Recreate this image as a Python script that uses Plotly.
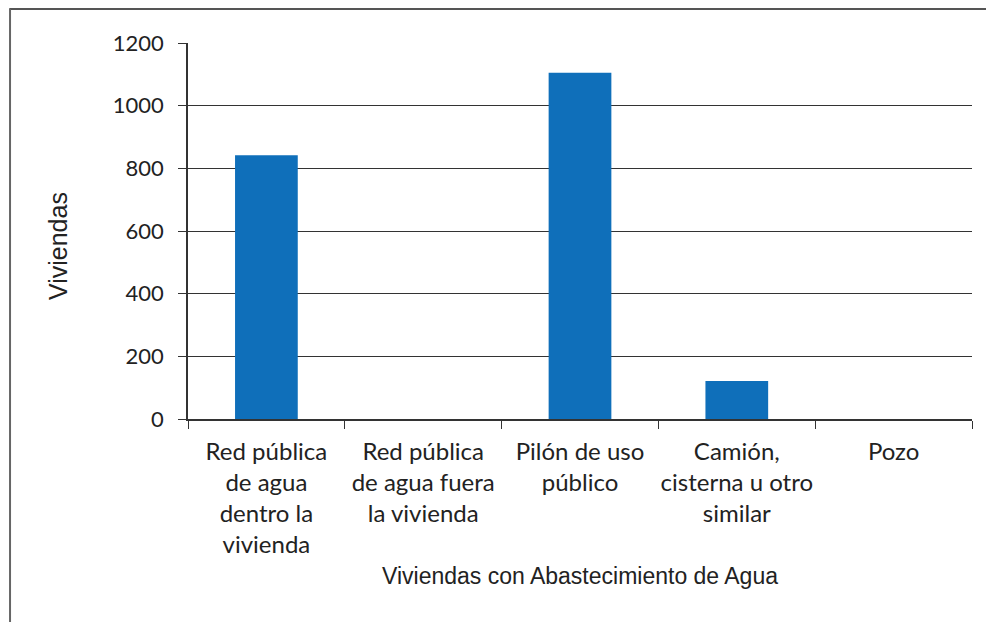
import plotly.graph_objects as go

categories = [
    "Red pública<br>de agua<br>dentro la<br>vivienda",
    "Red pública<br>de agua fuera<br>la vivienda",
    "Pilón de uso<br>público",
    "Camión,<br>cisterna u otro<br>similar",
    "Pozo",
]
values = [842, 0, 1105, 121, 0]
y_ticks = [0, 200, 400, 600, 800, 1000, 1200]
y_title = "Viviendas"
x_title = "Viviendas con Abastecimiento de Agua"

fig = go.Figure(go.Bar(x=categories, y=values, marker=dict(color="#0F6FBA", line=dict(width=0))))

fig.update_layout(
    width=994, height=622,
    margin=dict(l=180, r=30, t=35, b=211, autoexpand=False),
    paper_bgcolor="white", plot_bgcolor="white",
    bargap=0.6, showlegend=False,
    font=dict(family="Lato", color="#222"),
    shapes=[
        dict(type="line", xref="paper", yref="paper", x0=-0.228, x1=1.05, y0=1.0904, y1=1.0904,
             line=dict(color="#555", width=2)),
        dict(type="line", xref="paper", yref="paper", x0=-0.227, x1=-0.227, y0=1.0904, y1=-0.54,
             line=dict(color="#666", width=2)),
    ],
    annotations=[
        dict(text=y_title, xref="paper", yref="paper", x=-0.1658, y=0.46, textangle=-90,
             showarrow=False, xanchor="center", yanchor="middle",
             font=dict(family="Liberation Sans", size=25, color="#222")),
    ],
)
fig.update_xaxes(
    automargin=False, tickangle=0,
    showline=True, linecolor="#333", linewidth=1.5,
    ticks="outside", tickson="boundaries", ticklen=8, tickcolor="#333",
    tickfont=dict(family="Lato", size=24, color="#222"),
    ticklabelstandoff=10,
    title=dict(text=x_title, font=dict(family="Liberation Sans", size=23, color="#222"), standoff=11),
)
fig.update_yaxes(
    automargin=False,
    range=[0, 1200], tickvals=y_ticks,
    showline=True, linecolor="#333", linewidth=1.5,
    showgrid=True, gridcolor="#333", gridwidth=1.2,
    ticks="outside", ticklen=8, tickcolor="#333",
    tickfont=dict(family="Lato", size=22, color="#222"),
    ticklabelstandoff=10,
    zeroline=False,
)

fig.write_html("out.html")
